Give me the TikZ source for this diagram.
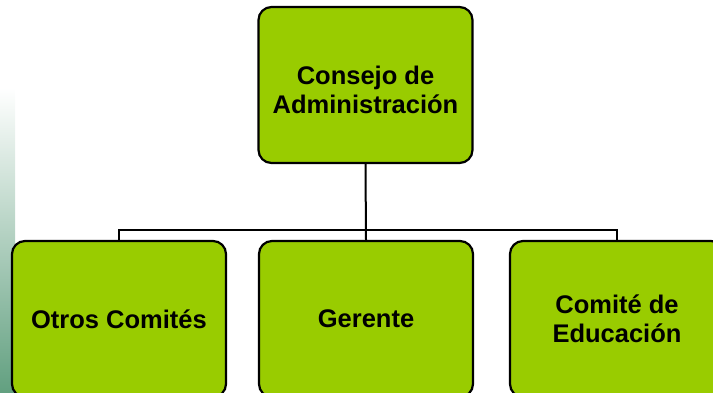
\documentclass[tikz,border=0pt]{standalone}
\usepackage{fontspec}
\setmainfont{Liberation Sans}
\definecolor{boxgreen}{HTML}{99CC00}
\definecolor{stripgreen}{RGB}{98,160,128}
\begin{document}
\begin{tikzpicture}[x=1pt,y=-1pt,
  box/.style={draw=black, line width=2.2pt, fill=boxgreen, rounded corners=13pt,
    minimum width=214pt, minimum height=156pt, inner sep=0pt,
    font=\bfseries\fontsize{25.5}{29}\selectfont, align=center},
  conn/.style={line width=2pt}]
\useasboundingbox (0,0) rectangle (713,392);
\clip (0,0) rectangle (713,392);
\shade[top color=white, bottom color=stripgreen] (0,88) rectangle (15,392);
\node[box] (top) at (365.5,85) {};
\node[font=\bfseries\fontsize{25.5}{29}\selectfont, align=center, inner sep=0pt] (toptext) at ([yshift=-5pt]top.center) {Consejo de\\Administración};
\node[box] (b1) at (119,319) {Otros Comités};
\node[box] (b2) at (366,319) {Gerente};
\node[box] (b3) at (617,319) {Comité de\\Educación};
\coordinate (bus) at (0,230);
\draw[conn] (top.south) -- (b2.north);
\draw[conn] (b1.north) -- (b1.north |- bus) -- (b3.north |- bus) -- (b3.north);
\end{tikzpicture}
\end{document}
